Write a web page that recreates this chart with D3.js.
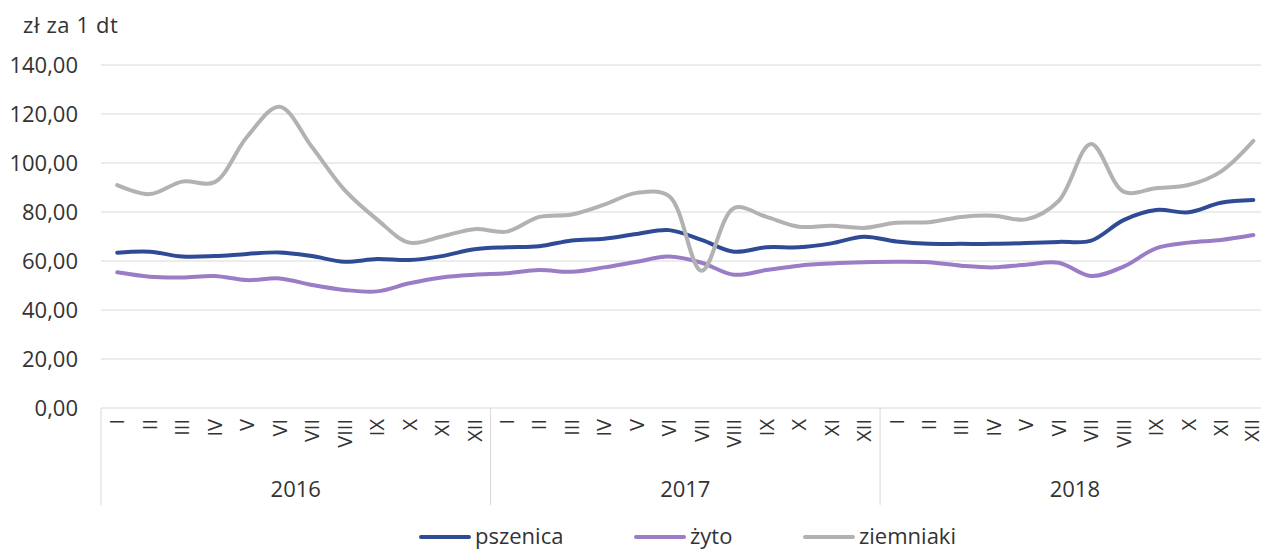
<!DOCTYPE html>
<html>
<head>
<meta charset="utf-8">
<script src="https://cdn.jsdelivr.net/npm/d3@7"></script>
<style>
  html, body { margin: 0; padding: 0; background: #fff; }
  svg text { font-family: "Open Sans", "Noto Sans", sans-serif; fill: #333; }
</style>
</head>
<body>
<svg id="chart" width="1261" height="551"></svg>
<script>
const years = ["2016", "2017", "2018"];
const months = ["I","II","III","IV","V","VI","VII","VIII","IX","X","XI","XII"];
const yTicks = [0, 20, 40, 60, 80, 100, 120, 140];
const seriesNames = ["pszenica", "żyto", "ziemniaki"];
const seriesColors = ["#2F4B96", "#9A7DC6", "#B2B2B2"];

const pszenica = [
  63.4, 63.8, 61.8, 62.0, 62.9, 63.5, 62.0, 59.7, 60.8, 60.4, 62.0, 64.8,
  65.6, 66.0, 68.4, 69.1, 71.0, 72.6, 68.6, 63.8, 65.6, 65.6, 67.2, 69.9,
  68.0, 67.0, 67.0, 67.0, 67.3, 67.8, 68.3, 76.7, 80.8, 79.9, 83.8, 84.9
];
const zyto = [
  55.4, 53.6, 53.3, 53.9, 52.2, 52.9, 50.2, 48.2, 47.6, 50.9, 53.3, 54.4,
  55.0, 56.3, 55.6, 57.4, 59.7, 61.8, 59.3, 54.4, 56.3, 58.1, 59.0, 59.5,
  59.7, 59.5, 58.1, 57.4, 58.5, 59.3, 53.9, 57.7, 65.2, 67.5, 68.6, 70.6
];
const ziemniaki = [
  91.0, 87.3, 92.4, 92.2, 110.7, 123.0, 106.5, 89.0, 77.0, 67.5, 70.0, 73.0,
  72.0, 78.0, 79.0, 83.0, 87.8, 86.5, 56.0, 81.6, 78.0, 74.0, 74.4, 73.5,
  75.6, 75.8, 78.0, 78.5, 77.0, 84.5, 107.8, 88.3, 89.7, 91.0, 96.5, 109.0
];

const svg = d3.select("#chart");
const pLeft = 101, pRight = 1269.6, pTop = 65, pBottom = 408;
const cats = d3.range(years.length * months.length);

const x = d3.scalePoint().domain(cats).range([pLeft, pRight]).padding(0.5);
const y = d3.scaleLinear().domain([0, 140]).range([pBottom, pTop]);

// gridlines
svg.append("g").selectAll("line").data(yTicks).join("line")
  .attr("x1", pLeft).attr("x2", pRight)
  .attr("y1", d => y(d)).attr("y2", d => y(d))
  .attr("stroke", "#d9d9d9").attr("stroke-width", 1);

// y tick labels
const fmt = d => d.toFixed(2).replace(".", ",");
svg.append("g").selectAll("text").data(yTicks).join("text")
  .attr("x", 78).attr("y", d => y(d)).attr("dy", "0.36em")
  .attr("text-anchor", "end").attr("font-size", 22)
  .text(fmt);

// axis title
svg.append("text").attr("x", 23).attr("y", 33).attr("font-size", 22)
  .attr("letter-spacing", 0.6).text("zł za 1 dt");

// year separators
const step = x.step();
const bounds = d3.range(years.length + 1).map(i => pLeft + i * months.length * step);
svg.append("g").selectAll("line").data(bounds).join("line")
  .attr("x1", d => d).attr("x2", d => d)
  .attr("y1", pBottom).attr("y2", 505)
  .attr("stroke", "#d9d9d9").attr("stroke-width", 1);

// month labels
svg.append("g").selectAll("text").data(cats).join("text")
  .attr("transform", d => `translate(${Math.min(x(d), 1252)},419) rotate(-90)`)
  .attr("dy", "0.36em")
  .attr("text-anchor", "end").attr("font-size", 20)
  .text(d => months[d % 12]);

// year labels
svg.append("g").selectAll("text").data(years).join("text")
  .attr("x", (d, i) => (bounds[i] + bounds[i + 1]) / 2)
  .attr("y", 497).attr("text-anchor", "middle").attr("font-size", 22)
  .text(d => d);

// lines
const seriesData = [pszenica, zyto, ziemniaki];
const line = d3.line()
  .x((d, i) => x(i)).y(d => y(d))
  .curve(d3.curveCatmullRom.alpha(0.5));
svg.append("g").selectAll("path").data(seriesData).join("path")
  .attr("d", line)
  .attr("fill", "none")
  .attr("stroke", (d, i) => seriesColors[i])
  .attr("stroke-width", 4)
  .attr("stroke-linecap", "round")
  .attr("stroke-linejoin", "round");

// legend
const legendX = [421, 636, 805];
const lg = svg.append("g").selectAll("g").data(seriesNames).join("g")
  .attr("transform", (d, i) => `translate(${legendX[i]},537)`);
lg.append("line").attr("x1", 0).attr("x2", 48).attr("y1", 0).attr("y2", 0)
  .attr("stroke", (d, i) => seriesColors[i]).attr("stroke-width", 4)
  .attr("stroke-linecap", "round");
lg.append("text").attr("x", 54).attr("y", 0).attr("dy", "0.34em")
  .attr("font-size", 22).text(d => d);
</script>
</body>
</html>
